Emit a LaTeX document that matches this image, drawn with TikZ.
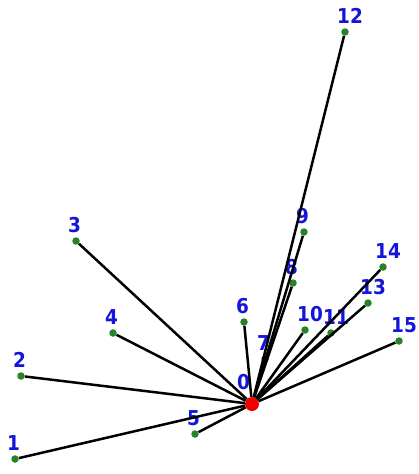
\documentclass[tikz,border=0pt]{standalone}
\usepackage{fontspec}
\setmainfont{DejaVu Sans}
\newfontfamily\numfont{DejaVu Sans Condensed}
\usetikzlibrary{calc}
\definecolor{hubred}{RGB}{240,0,0}
\definecolor{leafgreen}{RGB}{40,130,40}
\definecolor{lblblue}{RGB}{20,20,220}
\tikzset{
    hubnode/.style={circle, fill=hubred, minimum size=14pt, inner sep=0pt},
    leafnode/.style={circle, fill=leafgreen, minimum size=7.5pt, inner sep=0pt},
    numlbl/.style={anchor=base west, inner sep=0pt, text=lblblue, font=\numfont\bfseries\fontsize{20.5}{20.5}\selectfont},
    edgeline/.style={black, line width=2.5pt}
}

\begin{document}
\begin{tikzpicture}[x=1pt, y=-1pt]
    \useasboundingbox (0,0) rectangle (419,474);

    % Hub node
    \node[hubnode] (n0) at (252,404) {};
    \node[numlbl] (l0) at ($(n0)+(-15,-15)$) {0};

    % Leaf nodes with their numbers
    \foreach \id/\x/\y in {1/15/459, 2/21/376, 3/76/241, 4/113/333, 5/195/434,
                          6/244/322, 7/265/359, 8/293/283, 9/304/232, 10/305/330,
                          11/331/333, 12/345/32, 13/368/303, 14/383/267, 15/399/341} {
        \node[leafnode] (n\id) at (\x,\y) {};
        \node[numlbl] (l\id) at ($(n\id)+(-8,-9)$) {\id};
    }

    % Spokes from the hub
    \foreach \id in {1,...,15}
        \draw[edgeline] (n0) -- (n\id);
\end{tikzpicture}
\end{document}
